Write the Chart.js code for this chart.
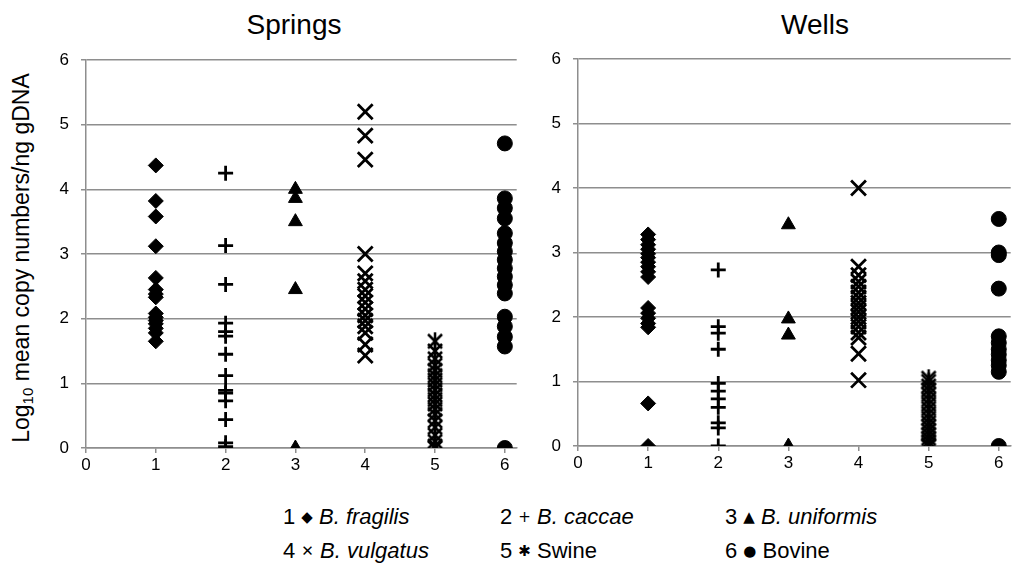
<!DOCTYPE html>
<html>
<head>
<meta charset="utf-8">
<script src="https://cdn.jsdelivr.net/npm/chart.js@4.4.1/dist/chart.umd.min.js"></script>
<style>
  body {
    margin: 0;
    width: 1024px;
    height: 572px;
    background: #fff;
    position: relative;
    overflow: hidden;
    font-family: "Liberation Sans", Arial, sans-serif;
    color: #000;
  }
  canvas { position: absolute; top: 0; }
  .title {
    position: absolute;
    top: 9px;
    font-size: 28px;
    transform: translateX(-50%);
    white-space: nowrap;
  }
  #yTitle {
    position: absolute;
    left: 22px;
    top: 258px;
    transform: translate(-50%, -50%) rotate(-90deg);
    white-space: nowrap;
    font-size: 23px;
  }
  #yTitle sub { font-size: 15px; vertical-align: -4px; }
  .key {
    position: absolute;
    font-size: 22px;
    line-height: 24px;
    white-space: nowrap;
  }
  .key i { font-style: italic; }
  .key .sym { font-family: "DejaVu Sans", sans-serif; font-size: 15px; vertical-align: 2px; }
</style>
</head>
<body>
<div class="title" style="left:294px">Springs</div>
<div class="title" style="left:815px">Wells</div>
<div id="yTitle">Log<sub>10</sub> mean copy numbers/ng gDNA</div>

<canvas id="springs" width="490" height="480" style="left:40px;width:490px;height:480px"></canvas>
<canvas id="wells" width="494" height="480" style="left:530px;width:494px;height:480px"></canvas>

<div class="key" style="left:283px;top:505px">1 <span class="sym">◆</span> <i>B. fragilis</i></div>
<div class="key" style="left:500px;top:505px">2 <span class="sym">+</span> <i>B. caccae</i></div>
<div class="key" style="left:725px;top:505px">3 <span class="sym">▲</span> <i>B. uniformis</i></div>
<div class="key" style="left:283px;top:539px">4 <span class="sym">✕</span> <i>B. vulgatus</i></div>
<div class="key" style="left:500px;top:539px">5 <span class="sym">✱</span> Swine</div>
<div class="key" style="left:725px;top:539px">6 <span class="sym">●</span> Bovine</div>

<script>
// marker categories along x
const markers = ["B. fragilis", "B. caccae", "B. uniformis", "B. vulgatus", "Swine", "Bovine"];
const xTicks = [0, 1, 2, 3, 4, 5, 6];
const yTicks = [0, 1, 2, 3, 4, 5, 6];

// log10 copy numbers, springs
const springsFragilis = [4.37, 3.82, 3.58, 3.12, 2.63, 2.45, 2.38, 2.33, 2.08, 2.02, 1.97, 1.92, 1.85, 1.78, 1.65];
const springsCaccae = [4.25, 3.13, 2.53, 1.93, 1.8, 1.73, 1.45, 1.12, 0.89, 0.85, 0.73, 0.44, 0.08, 0.02];
const springsUniformis = [4.0, 3.86, 3.5, 2.45, 0];
const springsVulgatus = [5.2, 4.83, 4.46, 3.0, 2.7, 2.58, 2.45, 2.35, 2.25, 2.15, 2.05, 1.97, 1.88, 1.78, 1.6, 1.43];
const springsSwine = [1.65, 1.5, 1.38, 1.28, 1.2, 1.12, 1.05, 0.98, 0.9, 0.82, 0.75, 0.68, 0.6, 0.52, 0.42, 0.32, 0.2, 0.1, 0.03, 0];
const springsBovine = [4.71, 3.86, 3.71, 3.55, 3.32, 3.17, 3.04, 2.91, 2.78, 2.65, 2.52, 2.39, 2.03, 1.88, 1.72, 1.57, 0];

// log10 copy numbers, wells
const wellsFragilis = [3.28, 3.2, 3.12, 3.05, 2.98, 2.92, 2.85, 2.78, 2.7, 2.62, 2.14, 2.06, 1.98, 1.9, 1.84, 0.66, 0];
const wellsCaccae = [2.73, 1.85, 1.75, 1.5, 0.97, 0.85, 0.73, 0.6, 0.36, 0.28, 0];
const wellsUniformis = [3.43, 1.97, 1.72, 0];
const wellsVulgatus = [4.0, 2.78, 2.65, 2.55, 2.47, 2.38, 2.3, 2.22, 2.15, 2.08, 2.0, 1.93, 1.85, 1.76, 1.68, 1.43, 1.02];
const wellsSwine = [1.05, 1.0, 0.93, 0.87, 0.8, 0.72, 0.65, 0.58, 0.5, 0.43, 0.36, 0.3, 0.24, 0.18, 0.12, 0.07, 0.02, 0];
const wellsBovine = [3.52, 3.0, 2.96, 2.44, 1.7, 1.6, 1.5, 1.42, 1.33, 1.25, 1.15, 0];

// asterisk marker: an x with a vertical stroke
function starMarker() {
  const c = document.createElement("canvas");
  c.width = 18;
  c.height = 20;
  const g = c.getContext("2d");
  g.strokeStyle = "#000";
  g.lineWidth = 2.5;
  g.beginPath();
  g.moveTo(2, 3); g.lineTo(16, 17);
  g.moveTo(16, 3); g.lineTo(2, 17);
  g.moveTo(9, 1); g.lineTo(9, 19);
  g.stroke();
  return c;
}
const swineStar = starMarker();

const styles = [
  { pointStyle: "rectRot", pointRadius: 7.5, pointBorderWidth: 1 },
  { pointStyle: "cross", pointRadius: 7.5, pointBorderWidth: 2.8 },
  { pointStyle: "triangle", pointRadius: 8, pointBorderWidth: 1 },
  { pointStyle: "crossRot", pointRadius: 10.5, pointBorderWidth: 2.8 },
  { pointStyle: swineStar, pointRadius: 9, pointBorderWidth: 1 },
  { pointStyle: "circle", pointRadius: 7.5, pointBorderWidth: 1 }
];

const gridGrey = "#8e8e8e";
const tickFont = { family: "'Liberation Sans', Arial, sans-serif", size: 17 };

function makeChart(id, series, yWidth, pad) {
  const datasets = series.map((vals, i) => ({
    label: markers[i],
    data: vals.map(v => ({ x: i + 1, y: v })),
    borderColor: "#000",
    backgroundColor: "#000",
    showLine: false,
    ...styles[i]
  }));

  new Chart(document.getElementById(id), {
    type: "scatter",
    data: { datasets },
    options: {
      responsive: false,
      animation: false,
      layout: { padding: pad },
      plugins: { legend: { display: false }, tooltip: { enabled: false } },
      scales: {
        x: {
          type: "linear",
          min: 0,
          max: 6.17,
          afterBuildTicks: s => { s.ticks = xTicks.map(v => ({ value: v })); },
          afterFit: s => { s.height = 30; },
          ticks: { color: "#000", font: tickFont, padding: 2, callback: v => String(v) },
          grid: { drawOnChartArea: false, drawTicks: true, tickLength: 5, color: gridGrey, lineWidth: 1.5 },
          border: { display: true, color: gridGrey, width: 1.5 }
        },
        y: {
          min: 0,
          max: 6,
          afterBuildTicks: s => { s.ticks = yTicks.map(v => ({ value: v })); },
          afterFit: s => { s.width = yWidth; },
          ticks: { color: "#000", font: tickFont, padding: 12, callback: v => String(v) },
          grid: { color: gridGrey, lineWidth: 1.5, tickLength: 5 },
          border: { display: true, color: gridGrey, width: 1.5 }
        }
      }
    }
  });
}

makeChart("springs",
  [springsFragilis, springsCaccae, springsUniformis, springsVulgatus, springsSwine, springsBovine],
  46, { top: 60, right: 12, bottom: 2, left: 0 });

makeChart("wells",
  [wellsFragilis, wellsCaccae, wellsUniformis, wellsVulgatus, wellsSwine, wellsBovine],
  48, { top: 59, right: 4, bottom: 4, left: 0 });
</script>
</body>
</html>
